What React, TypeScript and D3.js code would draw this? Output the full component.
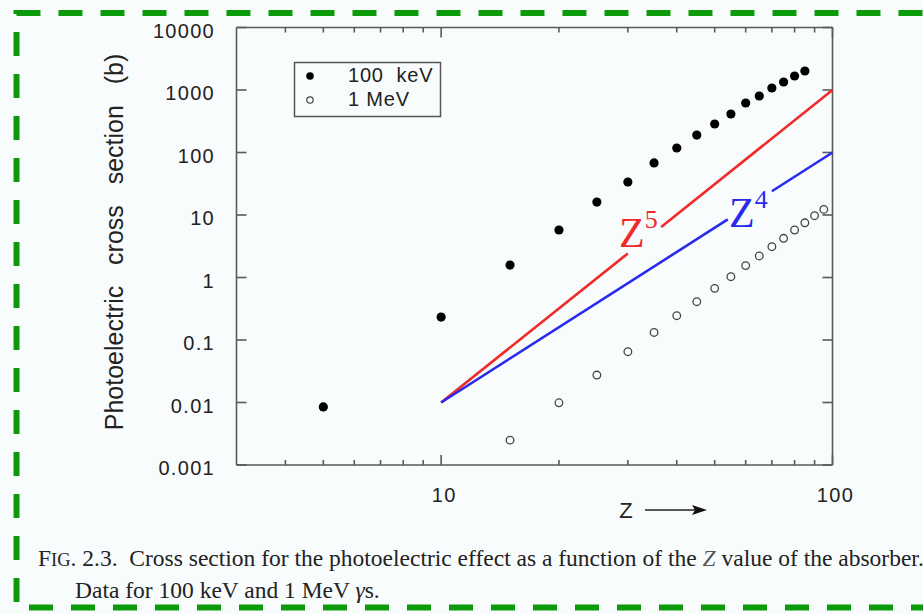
import React from "react";
import * as d3 from "d3";

const Z_KEV = [5, 10, 15, 20, 25, 30, 35, 40, 45, 50, 55, 60, 65, 70, 75, 80, 85];
const SIGMA_KEV = [0.0085, 0.233, 1.58, 5.75, 16.1, 33.7, 68, 118, 190, 286, 413, 619, 802, 1076, 1343, 1675, 2014];
const Z_MEV = [15, 20, 25, 30, 35, 40, 45, 50, 55, 60, 65, 70, 75, 80, 85, 90, 95];
const SIGMA_MEV = [0.0025, 0.0099, 0.0275, 0.065, 0.132, 0.245, 0.41, 0.67, 1.03, 1.55, 2.21, 3.11, 4.24, 5.75, 7.5, 9.75, 12.3];

// Z^5 and Z^4 guide lines (segments broken where the labels sit)
const Z5_SEGMENTS: [number, number][][] = [
  [[10, 0.01], [30, 2.43]],
  [[36.5, 6.43], [100, 1000]],
];
const Z4_SEGMENTS: [number, number][][] = [
  [[10, 0.01], [54, 8.5]],
  [[70, 24], [100, 100]],
];

const X_MAJOR = [10, 100];
const X_LABELS = ["10", "100"];
const X_MINOR = [4, 5, 6, 7, 8, 9, 20, 30, 40, 50, 60, 70, 80, 90];
const Y_TICKS = [0.001, 0.01, 0.1, 1, 10, 100, 1000, 10000];
const Y_LABELS = ["0.001", "0.01", "0.1", "1", "10", "100", "1000", "10000"];

const LEGEND = ["100  keV", "1 MeV"];

export default function App() {
  const W = 923, H = 614;
  const x = d3.scaleLog().domain([3, 100]).range([236.5, 832.5]);
  const y = d3.scaleLog().domain([0.001, 10000]).range([465, 27.5]);
  const [x0, x1] = x.range();
  const [y0, y1] = y.range();
  const line = d3.line<[number, number]>().x(d => x(d[0])).y(d => y(d[1]));
  const axisColor = "#5a5a5a";
  const sans = "'Liberation Sans', Arial, Helvetica, sans-serif";
  const serif = "'Liberation Serif', 'Times New Roman', serif";

  return (
    <svg width={W} height={H} style={{ position: "fixed", left: 0, top: 0, background: "#f9fcfc" }}>
      <rect x={0} y={0} width={W} height={H} fill="#f9fcfc" />
      {/* dashed green frame */}
      <rect x={16.5} y={13} width={960} height={594.5} fill="none" stroke="#0a9a0a" strokeWidth={6} strokeDasharray="24 18" />

      {/* axes frame */}
      <g stroke={axisColor} strokeWidth={1.6} fill="none">
        <line x1={x0} y1={y0} x2={x1} y2={y0} />
        <line x1={x0} y1={y1} x2={x1} y2={y1} />
        <line x1={x0} y1={y0} x2={x0} y2={y1} />
        <line x1={x1} y1={y0} x2={x1} y2={y1} />
        {X_MAJOR.map(v => (
          <g key={"xm" + v}>
            <line x1={x(v)} x2={x(v)} y1={y0} y2={y0 - 10} />
            <line x1={x(v)} x2={x(v)} y1={y1} y2={y1 + 10} />
          </g>
        ))}
        {X_MINOR.map(v => (
          <g key={"xn" + v}>
            <line x1={x(v)} x2={x(v)} y1={y0} y2={y0 - 5} />
            <line x1={x(v)} x2={x(v)} y1={y1} y2={y1 + 5} />
          </g>
        ))}
        {Y_TICKS.map(v => (
          <g key={"yt" + v}>
            <line x1={x0} x2={x0 + 10} y1={y(v)} y2={y(v)} />
            <line x1={x1} x2={x1 - 10} y1={y(v)} y2={y(v)} />
          </g>
        ))}
      </g>

      {/* tick labels */}
      <g fontFamily={sans} fontSize={20} fill="#222" letterSpacing={1.3}>
        {Y_TICKS.map((v, i) => (
          <text key={"yl" + v} x={215} y={y(v) + 5} textAnchor="end" dominantBaseline="middle">{Y_LABELS[i]}</text>
        ))}
        {X_MAJOR.map((v, i) => (
          <text key={"xl" + v} x={x(v) + 3} y={497} textAnchor="middle" dominantBaseline="middle">{X_LABELS[i]}</text>
        ))}
      </g>

      {/* x axis title with arrow */}
      <text x={626} y={512} fontFamily={sans} fontSize={22} fill="#222" textAnchor="middle" dominantBaseline="middle">Z</text>
      <line x1={645} y1={510} x2={696} y2={510} stroke="#222" strokeWidth={1.3} />
      <path d="M707,510 L692,505 L695,510 L692,515 Z" fill="#111" />

      {/* y axis title */}
      <text transform="translate(123,242) rotate(-90)" fontFamily={sans} fontSize={25} fill="#222" textAnchor="middle" style={{ whiteSpace: "pre" }}>
        {"Photoelectric   cross   section   (b)"}
      </text>

      {/* guide lines */}
      {Z5_SEGMENTS.map((s, i) => (
        <path key={"z5" + i} d={line(s) || ""} stroke="#ee2a2a" strokeWidth={2.6} fill="none" />
      ))}
      {Z4_SEGMENTS.map((s, i) => (
        <path key={"z4" + i} d={line(s) || ""} stroke="#2a2aee" strokeWidth={2.6} fill="none" />
      ))}
      <text x={619} y={247} fontFamily={serif} fontSize={42} fill="#ee2a2a">Z<tspan fontSize={26} dy={-19}>5</tspan></text>
      <text x={729} y={227} fontFamily={serif} fontSize={42} fill="#2a2aee">Z<tspan fontSize={26} dy={-19}>4</tspan></text>

      {/* data */}
      {Z_KEV.map((z, i) => (
        <circle key={"k" + z} cx={x(z)} cy={y(SIGMA_KEV[i])} r={4.6} fill="#000" />
      ))}
      {Z_MEV.map((z, i) => (
        <circle key={"m" + z} cx={x(z)} cy={y(SIGMA_MEV[i])} r={3.8} fill="none" stroke="#444" strokeWidth={1.3} />
      ))}

      {/* legend */}
      <rect x={294.5} y={62.5} width={146} height={54} fill="none" stroke="#555" strokeWidth={1.5} />
      <circle cx={310} cy={76} r={3.8} fill="#000" />
      <circle cx={310} cy={100} r={3.2} fill="none" stroke="#444" strokeWidth={1.2} />
      <g fontFamily={sans} fontSize={20} fill="#222" letterSpacing={0.8}>
        <text x={348} y={77} dominantBaseline="middle" style={{ whiteSpace: "pre" }}>{LEGEND[0]}</text>
        <text x={348} y={101} dominantBaseline="middle">{LEGEND[1]}</text>
      </g>

      {/* caption */}
      <g fontFamily={serif} fontSize={23.5} fill="#222">
        <text x={38} y={565.5} style={{ whiteSpace: "pre" }}>
          <tspan>F</tspan><tspan fontSize={18.5}>IG</tspan><tspan>. 2.3.  Cross section for the photoelectric effect as a function of the </tspan>
          <tspan fontStyle="italic" fill="#555">Z</tspan><tspan> value of the absorber.</tspan>
        </text>
        <text x={75} y={597.5}>
          Data for 100 keV and 1 MeV <tspan fontStyle="italic">γ</tspan>s.
        </text>
      </g>
    </svg>
  );
}
